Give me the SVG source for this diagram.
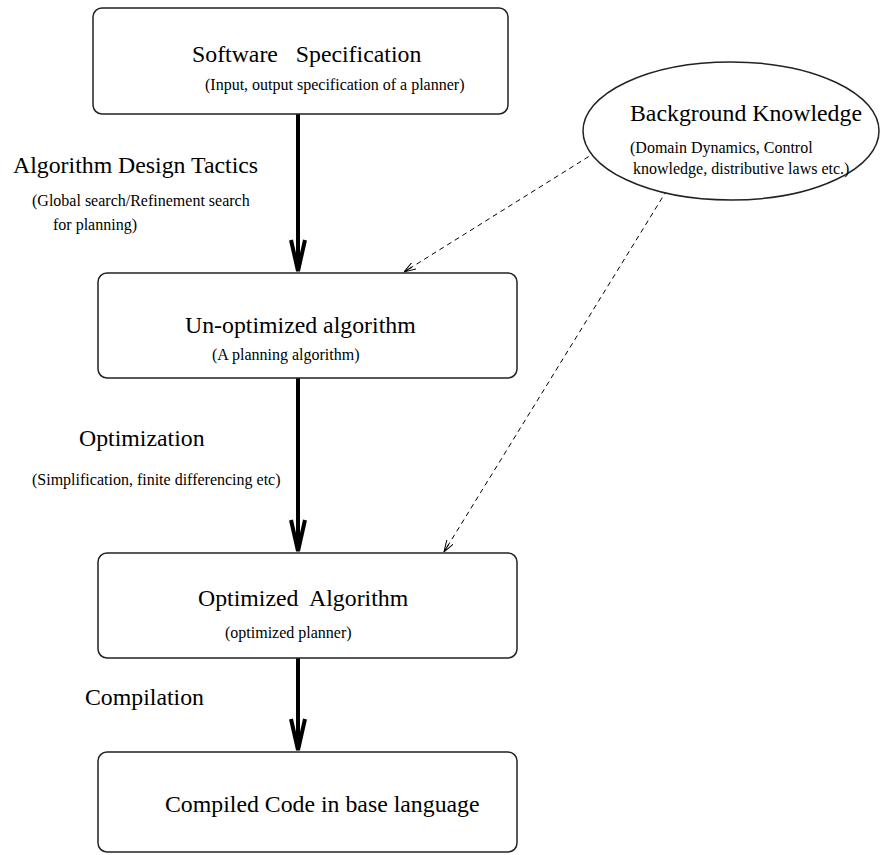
<svg xmlns="http://www.w3.org/2000/svg" width="880" height="855" viewBox="0 0 880 855">
<defs>
<style>
.box{fill:#fff;stroke:#222;stroke-width:1.5}
.t{font-family:"Liberation Serif","Times New Roman",serif;font-size:23.8px;fill:#000}
.s{font-family:"Liberation Serif","Times New Roman",serif;font-size:16px;fill:#000}
.main{stroke:#000;stroke-width:4;fill:none}
.head{stroke:#000;stroke-width:4;fill:none;stroke-linejoin:miter}
.dash{stroke:#000;stroke-width:1;fill:none;stroke-dasharray:5,4}
</style>
<marker id="dh" viewBox="0 0 12 8" refX="12" refY="4" markerWidth="12" markerHeight="8" markerUnits="userSpaceOnUse" orient="auto">
<path d="M0,0 L12,4 L0,8 M3,4 L12,4" fill="none" stroke="#000" stroke-width="1"/>
</marker>
</defs>
<rect width="880" height="855" fill="#fff"/>
<g id="connectors">
<line class="main" x1="298" y1="114" x2="298" y2="271"/>
<polyline class="head" points="291,240 298,271 305,240"/>
<line class="main" x1="298" y1="378" x2="298" y2="551"/>
<polyline class="head" points="291,520 298,551 305,520"/>
<line class="main" x1="298" y1="658" x2="298" y2="750"/>
<polyline class="head" points="291,719 298,750 305,719"/>
<line class="dash" x1="604" y1="147" x2="404" y2="272" marker-end="url(#dh)"/>
<line class="dash" x1="667" y1="190" x2="444" y2="552" marker-end="url(#dh)"/>
</g>
<g id="spec">
<rect class="box" x="93" y="8" width="415" height="106" rx="9"/>
<text class="t" x="192" y="62" xml:space="preserve">Software   Specification</text>
<text class="s" x="205" y="90">(Input, output specification of a planner)</text>
</g>
<g id="background">
<ellipse class="box" cx="731" cy="131" rx="148" ry="69"/>
<text class="t" x="630" y="121">Background Knowledge</text>
<text class="s" x="630" y="153">(Domain Dynamics, Control</text>
<text class="s" x="633" y="174">knowledge, distributive laws etc.)</text>
</g>
<g id="tactics-label">
<text class="t" x="13" y="173">Algorithm Design Tactics</text>
<text class="s" x="32" y="206">(Global search/Refinement search</text>
<text class="s" x="53" y="230">for planning)</text>
</g>
<g id="unopt">
<rect class="box" x="98" y="273" width="419" height="105" rx="9"/>
<text class="t" x="185" y="333">Un-optimized algorithm</text>
<text class="s" x="212" y="360">(A planning algorithm)</text>
</g>
<g id="optimization-label">
<text class="t" x="79" y="446">Optimization</text>
<text class="s" x="32" y="485">(Simplification, finite differencing etc)</text>
</g>
<g id="opt">
<rect class="box" x="98" y="553" width="419" height="105" rx="9"/>
<text class="t" x="198" y="606" xml:space="preserve">Optimized  Algorithm</text>
<text class="s" x="225" y="638">(optimized planner)</text>
</g>
<g id="compilation-label">
<text class="t" x="85" y="705">Compilation</text>
</g>
<g id="compiled">
<rect class="box" x="98" y="752" width="419" height="100" rx="9"/>
<text class="t" x="165" y="812">Compiled Code in base language</text>
</g>
</svg>
